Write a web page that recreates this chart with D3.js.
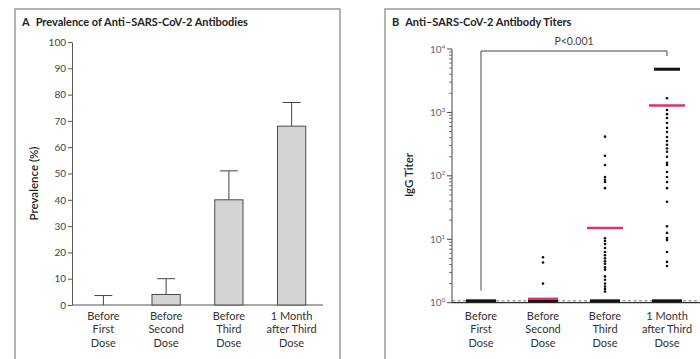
<!DOCTYPE html>
<html>
<head>
<meta charset="utf-8">
<script src="https://cdn.jsdelivr.net/npm/d3@7"></script>
<style>
  html, body { margin: 0; padding: 0; background: #fff; }
  svg { display: block; font-family: Lato, "Open Sans", sans-serif; }
</style>
</head>
<body>
<svg id="chart" width="700" height="359"></svg>
<script>
// ---- data ----
const groups = ["Before First Dose", "Before Second Dose", "Before Third Dose", "1 Month after Third Dose"];
const groupLabelLines = [
  ["Before", "First", "Dose"],
  ["Before", "Second", "Dose"],
  ["Before", "Third", "Dose"],
  ["1 Month", "after Third", "Dose"]
];

// Panel A: prevalence (%) and upper confidence limit
const prevalence = [0, 4, 40, 68];
const prevalenceUpper = [3.6, 10, 51, 77];
const prevalenceTicks = [0, 10, 20, 30, 40, 50, 60, 70, 80, 90, 100];

// Panel B: individual IgG titers above the detection limit
const titersFirst = [];
const titersSecond = [5.2, 4.3, 2.0];
const titersThird = [415, 208, 148, 96, 87, 80, 64,
  10.4, 9.4, 8.4, 7.3, 6.3, 5.6, 5.0, 4.5, 4.1, 3.6, 3.3, 2.6, 2.3, 2.0, 1.8, 1.65, 1.5];
const titersAfterThird = [1670, 1090, 940, 815, 680, 570, 490, 410, 355, 308, 270, 240, 200,
  160, 148, 115, 96, 80, 64, 39, 16, 12.6, 10.5, 9.7, 6.3, 4.4, 3.8];
const titerSeries = [titersFirst, titersSecond, titersThird, titersAfterThird];

// Stacked values (many coincident samples) per group: [group index, titer]
const titerStacks = [[0, 1.07], [1, 1.07], [2, 1.07], [3, 1.07], [3, 4800]];
// Summary line per group (null = none)
const titerSummary = [null, 1.15, 15, 1290];
const detectionLimit = 1.07;
const titerDecades = [1, 10, 100, 1000, 10000];
const pValueText = "P<0.001";

// ---- drawing ----
const svg = d3.select("#chart");
const textColor = "#333";
const frameColor = "#9a9a9a";

// panel frames (bottom edge runs off the page)
svg.append("rect").attr("x", 15).attr("y", 9).attr("width", 325).attr("height", 370)
  .attr("fill", "none").attr("stroke", frameColor).attr("stroke-width", 1.5);
svg.append("rect").attr("x", 385).attr("y", 9).attr("width", 340).attr("height", 370)
  .attr("fill", "none").attr("stroke", frameColor).attr("stroke-width", 1.5);

function title(x, letter, text) {
  const t = svg.append("text").attr("x", x).attr("y", 26)
    .attr("font-size", 11).attr("font-weight", "bold").attr("fill", "#222");
  t.append("tspan").text(letter);
  t.append("tspan").attr("dx", 6).text(text);
}
title(22, "A", "Prevalence of Anti–SARS-CoV-2 Antibodies");
title(392, "B", "Anti–SARS-CoV-2 Antibody Titers");

// category labels, one text element per line
function groupLabels(g, xpos) {
  groupLabelLines.forEach((lines, i) => {
    lines.forEach((ln, j) => {
      g.append("text").attr("text-anchor", "middle")
        .attr("font-size", 11).attr("fill", textColor)
        .attr("x", xpos(i)).attr("y", 320 + j * 13.4).text(ln);
    });
  });
}

// ---------- Panel A ----------
const gA = svg.append("g");
const xA = d3.scaleBand().domain(groups).range([72, 323]).paddingInner(0.55).paddingOuter(0.275);
const yA = d3.scaleLinear().domain([0, 100]).range([305, 42]);

const axA = gA.append("g").attr("transform", "translate(72,0)")
  .call(d3.axisLeft(yA).tickValues(prevalenceTicks).tickSize(4).tickSizeOuter(0).tickPadding(2));
axA.selectAll("text").attr("font-size", 10).attr("fill", "#444").attr("font-family", "Lato, sans-serif");
axA.selectAll("line, path").attr("stroke", "#555");

gA.append("line").attr("x1", 72).attr("x2", 323).attr("y1", yA(0)).attr("y2", yA(0))
  .attr("stroke", "#555");

gA.append("text").attr("transform", `translate(38,${(yA(0) + yA(100)) / 2 + 10}) rotate(-90)`)
  .attr("text-anchor", "middle").attr("font-size", 11.5).attr("font-weight", 600)
  .attr("fill", "#222").text("Prevalence (%)");

// error bars
const capW = 18;
gA.selectAll(".err").data(groups).join("g").each(function (d, i) {
  const cx = xA(d) + xA.bandwidth() / 2;
  const g = d3.select(this);
  g.append("line").attr("x1", cx).attr("x2", cx)
    .attr("y1", yA(prevalence[i])).attr("y2", yA(prevalenceUpper[i])).attr("stroke", "#444");
  g.append("line").attr("x1", cx - capW / 2).attr("x2", cx + capW / 2)
    .attr("y1", yA(prevalenceUpper[i])).attr("y2", yA(prevalenceUpper[i])).attr("stroke", "#444");
});

gA.selectAll(".bar").data(groups).join("rect")
  .attr("x", d => xA(d)).attr("width", xA.bandwidth())
  .attr("y", (d, i) => yA(prevalence[i]))
  .attr("height", (d, i) => yA(0) - yA(prevalence[i]))
  .attr("fill", "#d4d4d4").attr("stroke", "#4a4a4a").attr("stroke-width", 1);

groupLabels(gA, i => xA(groups[i]) + xA.bandwidth() / 2);

// ---------- Panel B ----------
const gB = svg.append("g");
const xB = d3.scalePoint().domain(groups).range([481, 667]);
const yB = d3.scaleLog().domain([1, 10000]).range([302.7, 49]);

// y axis: major and minor log ticks on the left
gB.append("line").attr("x1", 452).attr("x2", 452).attr("y1", yB(10000)).attr("y2", yB(1))
  .attr("stroke", "#444");
const minorTicks = [];
titerDecades.slice(0, -1).forEach(dec => { for (let k = 2; k <= 9; k++) minorTicks.push(dec * k); });
gB.selectAll(".minor").data(minorTicks).join("line")
  .attr("x1", 449).attr("x2", 452).attr("y1", d => yB(d)).attr("y2", d => yB(d))
  .attr("stroke", "#555").attr("stroke-width", 0.8);
gB.selectAll(".major").data(titerDecades).join("line")
  .attr("x1", 447).attr("x2", 452).attr("y1", d => yB(d)).attr("y2", d => yB(d))
  .attr("stroke", "#444");
gB.selectAll(".majlab").data(titerDecades).join("text")
  .attr("x", 430).attr("y", d => yB(d) + 3.5)
  .attr("font-size", 10).attr("fill", "#666")
  .each(function (d) {
    const t = d3.select(this);
    t.append("tspan").text("10");
    t.append("tspan").attr("font-size", 6.5).attr("dy", -4).text(Math.round(Math.log10(d)));
  });

gB.append("text").attr("transform", `translate(413,${175}) rotate(-90)`)
  .attr("text-anchor", "middle").attr("font-size", 11.5).attr("font-weight", 600)
  .attr("fill", "#222").text("IgG Titer");

// x axis and detection limit
gB.append("line").attr("x1", 452).attr("x2", 700).attr("y1", yB(1)).attr("y2", yB(1))
  .attr("stroke", "#333").attr("stroke-width", 1.2);
gB.append("line").attr("x1", 452).attr("x2", 700)
  .attr("y1", yB(detectionLimit)).attr("y2", yB(detectionLimit))
  .attr("stroke", "#666").attr("stroke-width", 0.9).attr("stroke-dasharray", "3,2.5");

// significance bracket
const bx1 = xB(groups[0]), bx2 = xB(groups[3]);
const by = 51;
gB.append("path")
  .attr("d", `M${bx1},${yB(1.55)} V${by} H${bx2} V${by + 5}`)
  .attr("fill", "none").attr("stroke", "#444").attr("stroke-width", 1);
gB.append("text").attr("x", (bx1 + bx2) / 2).attr("y", 45).attr("text-anchor", "middle")
  .attr("font-size", 10.5).attr("fill", "#444").text(pValueText);

// stacked coincident samples
gB.selectAll(".stack").data(titerStacks).join("line")
  .attr("x1", d => xB(groups[d[0]]) - (d[1] > 100 ? 13 : 15))
  .attr("x2", d => xB(groups[d[0]]) + (d[1] > 100 ? 13 : 15))
  .attr("y1", d => yB(d[1])).attr("y2", d => yB(d[1]))
  .attr("stroke", "#111").attr("stroke-width", 3);

// individual samples
titerSeries.forEach((vals, i) => {
  gB.selectAll(null).data(vals).join("circle")
    .attr("cx", xB(groups[i])).attr("cy", d => yB(d)).attr("r", 1.3).attr("fill", "#111");
});

// summary lines
gB.selectAll(".summary").data(titerSummary.map((v, i) => [i, v]).filter(d => d[1] !== null))
  .join("line")
  .attr("x1", d => xB(groups[d[0]]) - (d[0] === 1 ? 15 : 18))
  .attr("x2", d => xB(groups[d[0]]) + (d[0] === 1 ? 15 : 18))
  .attr("y1", d => yB(d[1])).attr("y2", d => yB(d[1]))
  .attr("stroke", "#e0306a").attr("stroke-width", 2.5);

groupLabels(gB, i => xB(groups[i]));
</script>
</body>
</html>
